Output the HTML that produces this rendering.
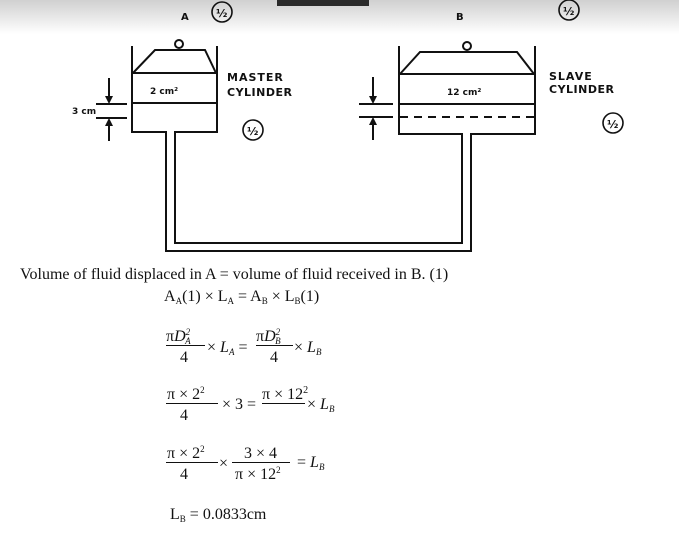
<!DOCTYPE html>
<html><head><meta charset="utf-8"><style>
html,body{margin:0;padding:0;background:#fff;width:679px;height:533px;overflow:hidden}
svg{display:block}
.s{font-family:"Liberation Serif",serif;fill:#111}
.d{font-family:"DejaVu Sans","Liberation Sans",sans-serif;font-weight:bold;fill:#111}
</style></head><body>
<svg width="679" height="533" viewBox="0 0 679 533" xmlns="http://www.w3.org/2000/svg">
<defs><linearGradient id="g" x1="0" y1="0" x2="0" y2="1"><stop offset="0" stop-color="#d0d0d0"/><stop offset="1" stop-color="#fff"/></linearGradient></defs>
<rect x="0" y="0" width="679" height="34" fill="url(#g)"/>
<rect x="277" y="0" width="92" height="6" fill="#2a2a2a"/>
<g stroke="#111" stroke-width="2" fill="none">
<!-- master -->
<path d="M132 46 V132 H166 V251 H471 V134 H535 V46"/>
<path d="M217 46 V132 H175 V243 H462 V134 H399 V46"/>
<path d="M132 73 H217 M132 103 H217"/>
<path d="M133 73 L155 50 H205 L216 73"/>
<circle cx="179" cy="44" r="4"/>
<!-- slave -->
<path d="M399 74 H535 M399 104 H535"/>
<path d="M400 74 L420 52 H517 L534 74"/>
<circle cx="467" cy="46" r="4"/>
<path d="M400 117 H535" stroke-dasharray="8 6"/>
<!-- dims -->
<path d="M96 104 H127 M96 118 H127 M109 78 V100 M109 122 V141"/>
<path d="M359 104 H393 M359 117 H393 M373 77 V100 M373 121 V140"/>
<circle cx="222" cy="12" r="10" stroke-width="1.6"/>
<circle cx="253" cy="130" r="10" stroke-width="1.6"/>
<circle cx="569" cy="10" r="10" stroke-width="1.6"/>
<circle cx="613" cy="123" r="10" stroke-width="1.6"/>
</g>
<g fill="#111">
<path d="M105 96 L109 104 L113 96Z M105 126 L109 118 L113 126Z"/>
<path d="M369 96 L373 104 L377 96Z M369 125 L373 117 L377 125Z"/>
</g>
<g class="d" font-size="10">
<text x="181" y="20">A</text><text x="456" y="20">B</text>
<text x="216" y="17" font-size="11">½</text>
<text x="247" y="135" font-size="11">½</text>
<text x="563" y="15" font-size="11">½</text>
<text x="607" y="128" font-size="11">½</text>
<text x="150" y="94" font-size="9">2 cm²</text>
<text x="447" y="95" font-size="9">12 cm²</text>
<text x="72" y="114" font-size="9">3 cm</text>
<text x="227" y="81" font-size="11" letter-spacing="1">MASTER</text>
<text x="227" y="96" font-size="11" letter-spacing="0.5">CYLINDER</text>
<text x="549" y="80" font-size="11" letter-spacing="1">SLAVE</text>
<text x="549" y="93" font-size="11" letter-spacing="0.5">CYLINDER</text>
</g>
<g class="s" font-size="16">
<text x="20" y="279">Volume of fluid displaced in A = volume of fluid received in B. (1)</text>
<text x="164" y="301">A<tspan font-size="9" dy="3">A</tspan><tspan dy="-3">(1) × L</tspan><tspan font-size="9" dy="3">A</tspan><tspan dy="-3"> = A</tspan><tspan font-size="9" dy="3">B</tspan><tspan dy="-3"> × L</tspan><tspan font-size="9" dy="3">B</tspan><tspan dy="-3">(1)</tspan></text>
<text x="166" y="341">π<tspan font-style="italic">D<tspan font-size="9" dy="-6">2</tspan><tspan font-size="9" dx="-5" dy="9">A</tspan></tspan></text>
<text x="180" y="362">4</text>
<text x="207" y="352">× <tspan font-style="italic">L<tspan font-size="9" dy="3">A</tspan></tspan><tspan dy="-3"> =</tspan></text>
<text x="256" y="341">π<tspan font-style="italic">D<tspan font-size="9" dy="-6">2</tspan><tspan font-size="9" dx="-5" dy="9">B</tspan></tspan></text>
<text x="270" y="362">4</text>
<text x="294" y="352">× <tspan font-style="italic">L<tspan font-size="9" dy="3">B</tspan></tspan></text>
<text x="167" y="399">π × 2<tspan font-size="9" dy="-6">2</tspan></text>
<text x="180" y="420">4</text>
<text x="222" y="409">× 3 =</text>
<text x="262" y="399">π × 12<tspan font-size="10" dy="-6">2</tspan></text>
<text x="307" y="409">× <tspan font-style="italic">L<tspan font-size="9" dy="3">B</tspan></tspan></text>
<text x="167" y="458">π × 2<tspan font-size="9" dy="-6">2</tspan></text>
<text x="180" y="479">4</text>
<text x="219" y="468">×</text>
<text x="244" y="458">3 × 4</text>
<text x="235" y="479">π × 12<tspan font-size="9" dy="-6">2</tspan></text>
<text x="297" y="467">= <tspan font-style="italic">L<tspan font-size="9" dy="3">B</tspan></tspan></text>
<text x="170" y="519">L<tspan font-size="9" dy="3">B</tspan><tspan dy="-3"> = 0.0833cm</tspan></text>
</g>
<g stroke="#111" stroke-width="1">
<path d="M166 345.5 H205 M256 345.5 H293 M166 403.5 H218 M262 403.5 H305 M166 462.5 H218 M232 462.5 H290"/>
</g>
</svg>
</body></html>
